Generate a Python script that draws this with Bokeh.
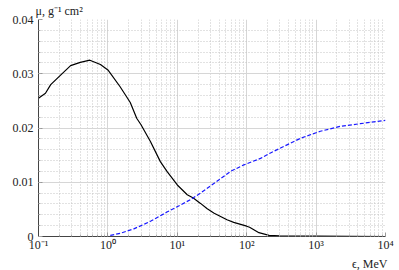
from bokeh.plotting import figure
from bokeh.models import FixedTicker, CustomJSTickFormatter, Title
from bokeh.embed import file_html
from bokeh.resources import INLINE

# Data
energy_black = [0.1, 0.126, 0.15, 0.21, 0.29, 0.40, 0.55, 0.78, 1.0, 1.5, 2.1, 2.6, 3.0,
                4.1, 5.7, 7.1, 10, 13.9, 17, 21.6, 27, 34, 52, 65, 100, 110, 150, 210, 300, 10000]
mu_black = [0.0255, 0.0264, 0.0280, 0.0298, 0.0315, 0.0321, 0.0325, 0.0317, 0.0307, 0.0276,
            0.0247, 0.0218, 0.0206, 0.0175, 0.0138, 0.0120, 0.0095, 0.0077, 0.0071, 0.0061,
            0.0051, 0.0043, 0.0031, 0.0026, 0.0019, 0.0017, 0.0007, 0.0002, 0.0001, 0.0]

energy_blue = [0.1, 1.0, 1.09, 1.51, 2.36, 4.1, 7.1, 11.1, 15.5, 21.6, 30, 58.5, 91, 158,
               220, 307, 427, 596, 1150, 2230, 4350, 10000]
mu_blue = [0.0, 0.0, 0.0002, 0.0006, 0.0014, 0.0028, 0.0045, 0.0058, 0.0068, 0.0080, 0.0093,
           0.0120, 0.0132, 0.0144, 0.0154, 0.0163, 0.0172, 0.0181, 0.0194, 0.0203, 0.0208, 0.0214]

x_ticks = [0.1, 1, 10, 100, 1000, 10000]
y_ticks = [0.0, 0.01, 0.02, 0.03, 0.04]
y_label = "μ, g⁻¹ cm²"
x_label = "ϵ, MeV"

FONT = "Liberation Serif"

p = figure(x_axis_type="log", x_range=(0.1, 1e4), y_range=(0, 0.04),
           frame_width=347, frame_height=217,
           min_border_left=38, min_border_right=14, min_border_top=18, min_border_bottom=35,
           output_backend="svg", toolbar_location=None)
p.outline_line_color = None
p.background_fill_color = "white"

x_minor = [m * d for d in [0.1, 1, 10, 100, 1000] for m in range(2, 10)]
y_minor = [i * 0.002 for i in range(21)]
p.xaxis.ticker = FixedTicker(ticks=x_ticks, minor_ticks=x_minor)
p.yaxis.ticker = FixedTicker(ticks=y_ticks, minor_ticks=y_minor)

p.xaxis.formatter = CustomJSTickFormatter(code="""
const sup = {"-":"\u207b","0":"\u2070","1":"\u00b9","2":"\u00b2","3":"\u00b3","4":"\u2074",
             "5":"\u2075","6":"\u2076","7":"\u2077","8":"\u2078","9":"\u2079"};
const e = Math.round(Math.log10(tick));
return "10" + String(e).split("").map(c => sup[c]).join("");
""")
p.yaxis.formatter = CustomJSTickFormatter(code="""
return tick == 0 ? "0" : tick.toFixed(2);
""")

for ax in (p.xaxis, p.yaxis):
    ax.axis_line_color = "#444444"
    ax.axis_line_width = 1
    ax.major_tick_in = 4
    ax.major_tick_out = 0
    ax.minor_tick_in = 2
    ax.minor_tick_out = 0
    ax.major_tick_line_color = "#999999"
    ax.minor_tick_line_color = "#aaaaaa"
    ax.major_label_text_font = FONT
    ax.major_label_text_font_size = "12px"
    ax.major_label_text_color = "#222222"
p.xaxis.major_label_standoff = 1
p.yaxis.major_label_standoff = 5

for g in (p.xgrid, p.ygrid):
    g.grid_line_color = "#d6d6d6"
    g.grid_line_width = 1
    g.minor_grid_line_color = "#c4c4c4"
    g.minor_grid_line_dash = "1 2"
    g.minor_grid_line_width = 1

p.line(energy_black, mu_black, line_color="black", line_width=1.2)
p.line(energy_blue, mu_blue, line_color="#1a1aff", line_width=1.2, line_dash="4 2")

p.add_layout(Title(text=y_label, align="left", offset=-3, standoff=3,
                   text_font=FONT, text_font_size="12px", text_font_style="normal",
                   text_color="#222222"), "above")
p.add_layout(Title(text=x_label, align="right", offset=-2, standoff=0,
                   text_font=FONT, text_font_size="12px", text_font_style="normal",
                   text_color="#222222"), "below")

open("out.html", "w").write(file_html(p, INLINE))
